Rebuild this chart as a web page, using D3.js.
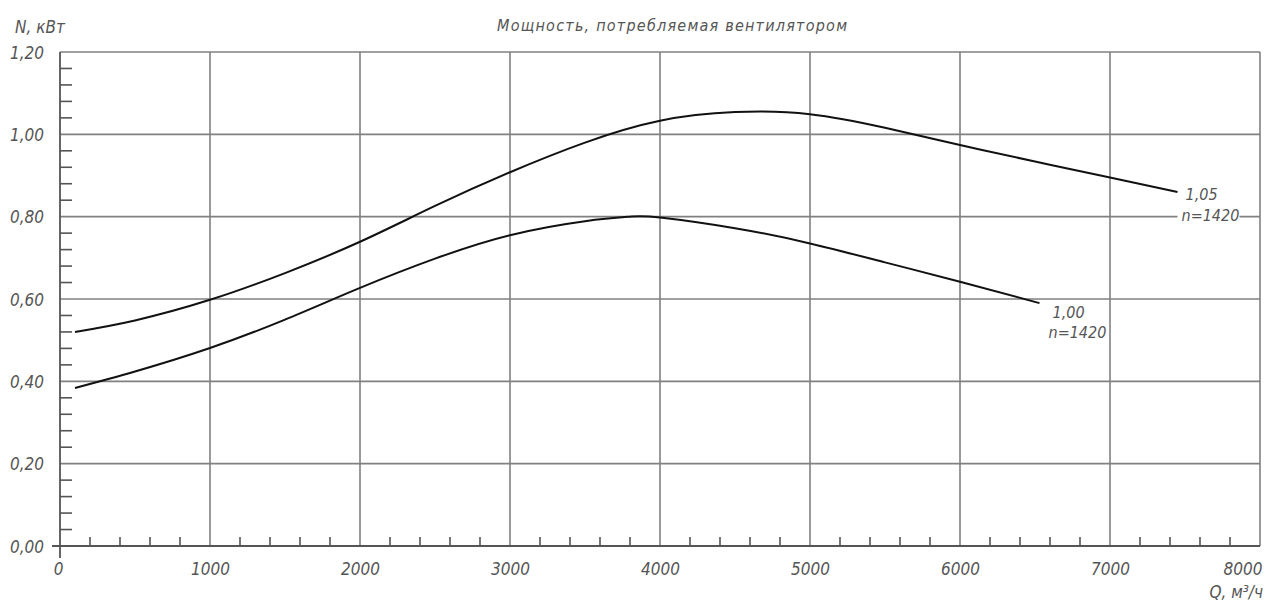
<!DOCTYPE html>
<html><head><meta charset="utf-8">
<script src="https://cdn.jsdelivr.net/npm/d3@7/dist/d3.min.js"></script>
<style>
body{margin:0;background:#fff}
svg text{font-family:"Liberation Sans Narrow","DejaVu Sans Condensed",sans-serif;font-style:italic;fill:#555}
</style></head><body><svg id="c" width="1270" height="604"></svg>
<script>
const xTicks=[0,1000,2000,3000,4000,5000,6000,7000,8000];
const xTickLabels=["0","1000","2000","3000","4000","5000","6000","7000","8000"];
const yTicks=[0,0.2,0.4,0.6,0.8,1.0,1.2];
const yTickLabels=["0,00","0,20","0,40","0,60","0,80","1,00","1,20"];
const q105=[100,500,1000,1500,2000,2500,3000,3500,4000,4500,5000,5500,6000,6500,7000,7450];
const n105=[0.52,0.548,0.598,0.663,0.739,0.826,0.908,0.980,1.033,1.054,1.049,1.016,0.974,0.934,0.895,0.860];
const q100=[100,500,1000,1500,2000,2500,3000,3500,3800,4000,4500,5000,5500,6000,6530];
const n100=[0.384,0.424,0.481,0.550,0.627,0.698,0.755,0.789,0.800,0.798,0.772,0.735,0.689,0.642,0.59];
const label105=["1,05","n=1420"];
const label100=["1,00","n=1420"];
const title="Мощность, потребляемая вентилятором";
const yTitle="N, кВт";
const xTitle="Q, м³/ч";

const svg=d3.select("#c");
const x=d3.scaleLinear().domain([0,8000]).range([60,1260]);
const y=d3.scaleLinear().domain([0,1.2]).range([546,52]);
const gridC="#808080", axisC="#555";

// grid
const g=svg.append("g");
g.selectAll(".vg").data(xTicks.slice(1)).join("line")
 .attr("x1",d=>x(d)).attr("x2",d=>x(d)).attr("y1",y(0)).attr("y2",y(1.2))
 .attr("stroke",gridC).attr("stroke-width",1.6);
g.selectAll(".hg").data(yTicks.slice(1)).join("line")
 .attr("x1",x(0)).attr("x2",x(8000)).attr("y1",d=>y(d)).attr("y2",d=>y(d))
 .attr("stroke",gridC).attr("stroke-width",1.6);

// minor ticks
const yMinor=d3.range(0,31).filter(i=>i%5!==0).map(i=>i*0.04);
g.selectAll(".ym").data(yMinor).join("line")
 .attr("x1",x(0)).attr("x2",x(0)+12).attr("y1",d=>y(d)).attr("y2",d=>y(d))
 .attr("stroke",axisC).attr("stroke-width",1.6);
const xMinor=d3.range(0,41).filter(i=>i%5!==0).map(i=>i*200);
g.selectAll(".xm").data(xMinor).join("line")
 .attr("x1",d=>x(d)).attr("x2",d=>x(d)).attr("y1",y(0)).attr("y2",y(0)-9)
 .attr("stroke",axisC).attr("stroke-width",1.6);

// axes lines
g.append("line").attr("x1",x(0)).attr("x2",x(0)).attr("y1",y(1.2)).attr("y2",y(0)+12).attr("stroke",axisC).attr("stroke-width",1.8);
g.append("line").attr("x1",x(0)-8).attr("x2",x(8000)).attr("y1",y(0)).attr("y2",y(0)).attr("stroke",axisC).attr("stroke-width",1.8);

// axis labels via d3 axes
const ya=svg.append("g").attr("transform",`translate(${x(0)},0)`)
 .call(d3.axisLeft(y).tickValues(yTicks).tickFormat((d,i)=>yTickLabels[i]).tickSize(0).tickPadding(16));
ya.select(".domain").remove();
ya.selectAll("text").attr("font-size",17).attr("fill","#555").attr("font-family",null).attr("dy","0.36em");
const xa=svg.append("g").attr("transform",`translate(0,${y(0)})`)
 .call(d3.axisBottom(x).tickValues(xTicks).tickFormat((d,i)=>xTickLabels[i]).tickSize(0).tickPadding(17));
xa.select(".domain").remove();
xa.selectAll("text").attr("font-size",17).attr("fill","#555").attr("font-family",null);
xa.selectAll(".tick").filter(d=>d===8000).select("text").attr("text-anchor","end").attr("dx",2);
xa.selectAll(".tick").filter(d=>d===0).select("text").attr("dx",-2);

// curves
const line=d3.line().x(d=>x(d[0])).y(d=>y(d[1])).curve(d3.curveNatural);
svg.append("path").datum(q105.map((q,i)=>[q,n105[i]])).attr("d",line)
 .attr("fill","none").attr("stroke","#111").attr("stroke-width",2);
svg.append("path").datum(q100.map((q,i)=>[q,n100[i]])).attr("d",line)
 .attr("fill","none").attr("stroke","#111").attr("stroke-width",2);

// curve labels
function curveLabel(lbl,q,n,dx,dy1,dy2,bg){
  const px=x(q)+dx, py=y(n);
  if(bg){ svg.append("rect").attr("x",px-4).attr("y",py+dy2-14).attr("width",62).attr("height",16).attr("fill","#fff"); }
  svg.append("text").attr("x",px+4).attr("y",py+dy1).attr("font-size",16).text(lbl[0]);
  svg.append("text").attr("x",px).attr("y",py+dy2).attr("font-size",16).text(lbl[1]);
}
curveLabel(label105,q105[q105.length-1],n105[n105.length-1],4,8,29,true);
curveLabel(label100,q100[q100.length-1],n100[n100.length-1],9,15,35,false);

// titles
svg.append("text").attr("x",15).attr("y",33).attr("font-size",17).text(yTitle);
svg.append("text").attr("x",672).attr("y",31).attr("font-size",16).attr("text-anchor","middle")
 .attr("textLength",350).attr("lengthAdjust","spacing").text(title);
svg.append("text").attr("x",1263).attr("y",598).attr("font-size",17).attr("text-anchor","end").text(xTitle);
</script></body></html>
